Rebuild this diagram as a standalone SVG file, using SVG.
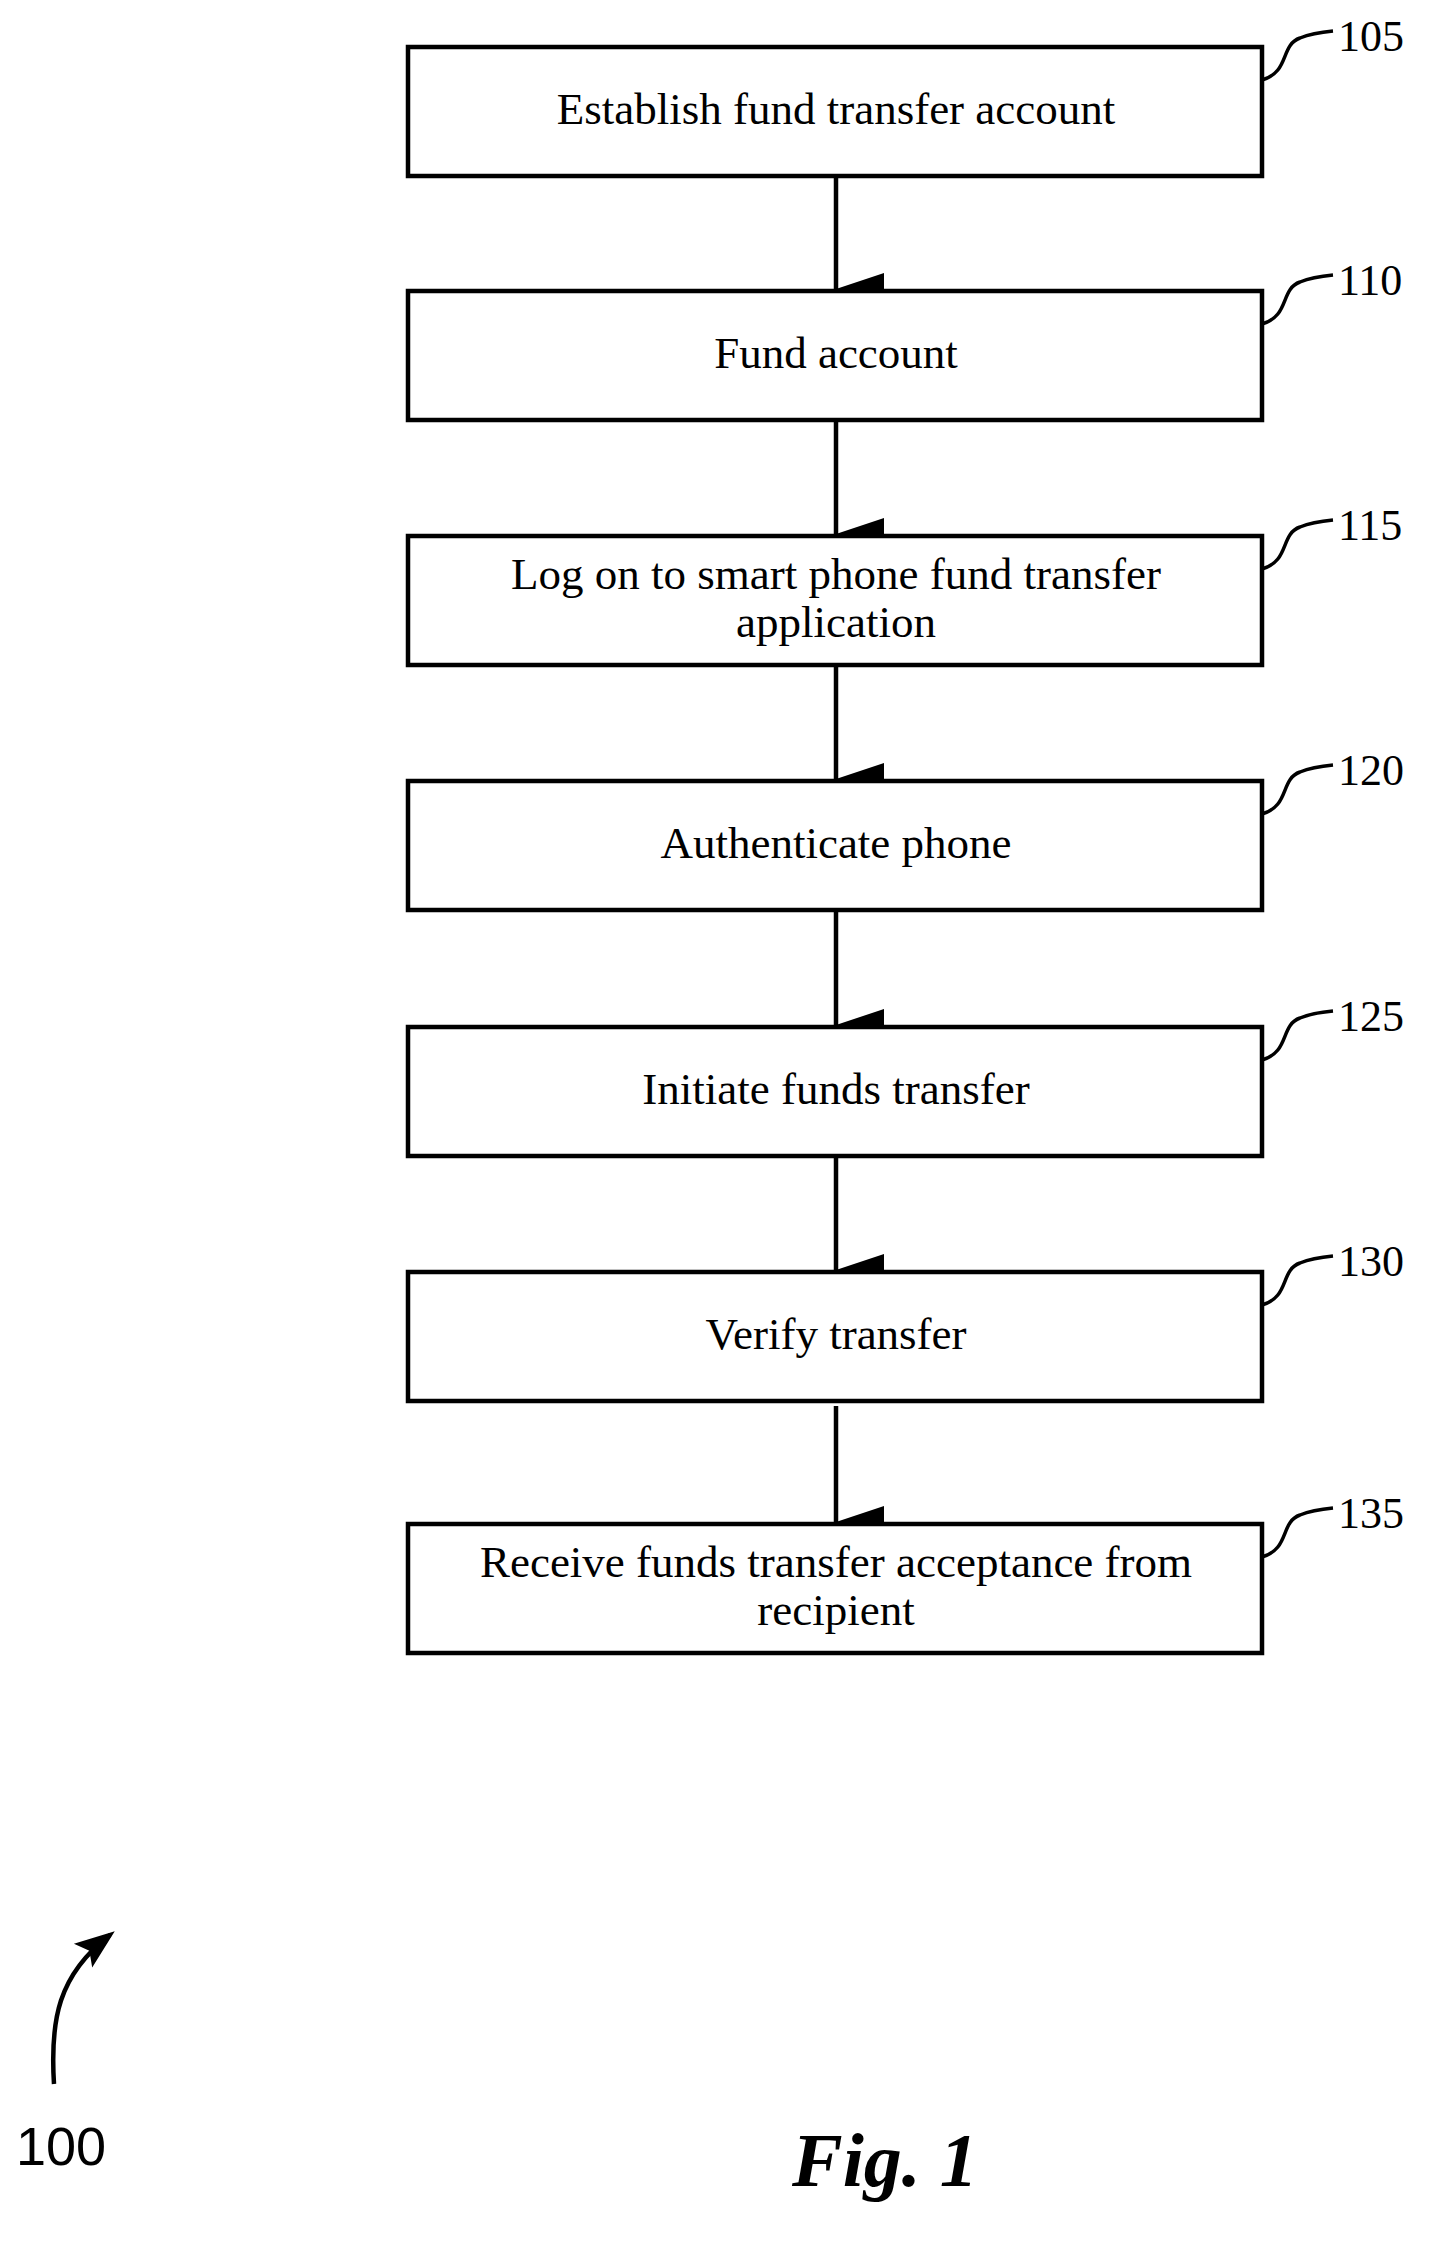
<svg xmlns="http://www.w3.org/2000/svg" width="1449" height="2246" viewBox="0 0 1449 2246">
<style>
.box{fill:#fff;stroke:#000;stroke-width:4.5}
.t{font-family:"Liberation Serif",serif;font-size:45px;text-anchor:middle}
.n{font-family:"Liberation Serif",serif;font-size:44px}
.sq{fill:none;stroke:#000;stroke-width:3.5}
.c{stroke:#000;stroke-width:4.5;fill:none}
</style>
<defs>
<marker id="ah" markerUnits="userSpaceOnUse" markerWidth="32" markerHeight="48" refX="16" refY="48" orient="auto-start-reverse" viewBox="0 0 32 48">
<path d="M0 0 L32 0 L16 48 Z" fill="#000"/>
</marker>
<marker id="ah2" markerUnits="userSpaceOnUse" markerWidth="40" markerHeight="40" refX="34" refY="20" orient="auto" viewBox="0 0 40 40">
<path d="M0 5 L40 20 L0 35 L8 20 Z" fill="#000"/>
</marker>
</defs>
<g id="connectors">
<line class="c" x1="836" y1="176" x2="836" y2="289" marker-end="url(#ah)"/>
<line class="c" x1="836" y1="420" x2="836" y2="534" marker-end="url(#ah)"/>
<line class="c" x1="836" y1="665" x2="836" y2="779" marker-end="url(#ah)"/>
<line class="c" x1="836" y1="910" x2="836" y2="1025" marker-end="url(#ah)"/>
<line class="c" x1="836" y1="1156" x2="836" y2="1270" marker-end="url(#ah)"/>
<line class="c" x1="836" y1="1406" x2="836" y2="1522" marker-end="url(#ah)"/>
</g>
<g id="n105"><rect class="box" x="408" y="47" width="854" height="129"/><text class="t" x="836" y="124">Establish fund transfer account</text><path class="sq" d="M1262 80 C1290 72 1280 45 1300 38 C1312 33 1322 32 1333 31"/><text class="n" x="1338" y="51">105</text></g>
<g id="n110"><rect class="box" x="408" y="291" width="854" height="129"/><text class="t" x="836" y="368">Fund account</text><path class="sq" d="M1262 324 C1290 316 1280 289 1300 282 C1312 277 1322 276 1333 275"/><text class="n" x="1338" y="295">110</text></g>
<g id="n115"><rect class="box" x="408" y="536" width="854" height="129"/><text class="t" x="836" y="589">Log on to smart phone fund transfer</text><text class="t" x="836" y="637">application</text><path class="sq" d="M1262 569 C1290 561 1280 534 1300 527 C1312 522 1322 521 1333 520"/><text class="n" x="1338" y="540">115</text></g>
<g id="n120"><rect class="box" x="408" y="781" width="854" height="129"/><text class="t" x="836" y="858">Authenticate phone</text><path class="sq" d="M1262 814 C1290 806 1280 779 1300 772 C1312 767 1322 766 1333 765"/><text class="n" x="1338" y="785">120</text></g>
<g id="n125"><rect class="box" x="408" y="1027" width="854" height="129"/><text class="t" x="836" y="1104">Initiate funds transfer</text><path class="sq" d="M1262 1060 C1290 1052 1280 1025 1300 1018 C1312 1013 1322 1012 1333 1011"/><text class="n" x="1338" y="1031">125</text></g>
<g id="n130"><rect class="box" x="408" y="1272" width="854" height="129"/><text class="t" x="836" y="1349">Verify transfer</text><path class="sq" d="M1262 1305 C1290 1297 1280 1270 1300 1263 C1312 1258 1322 1257 1333 1256"/><text class="n" x="1338" y="1276">130</text></g>
<g id="n135"><rect class="box" x="408" y="1524" width="854" height="129"/><text class="t" x="836" y="1577">Receive funds transfer acceptance from</text><text class="t" x="836" y="1625">recipient</text><path class="sq" d="M1262 1557 C1290 1549 1280 1522 1300 1515 C1312 1510 1322 1509 1333 1508"/><text class="n" x="1338" y="1528">135</text></g>
<g id="ref100">
<path class="c" d="M54 2084 C50 2020 58 1975 110 1935" marker-end="url(#ah2)"/>
<text x="16" y="2165" font-family="Liberation Sans,sans-serif" font-size="54">100</text>
</g>
<text x="792" y="2186" font-family="Liberation Serif,serif" font-size="76" font-style="italic" font-weight="bold">Fig. 1</text>
</svg>
